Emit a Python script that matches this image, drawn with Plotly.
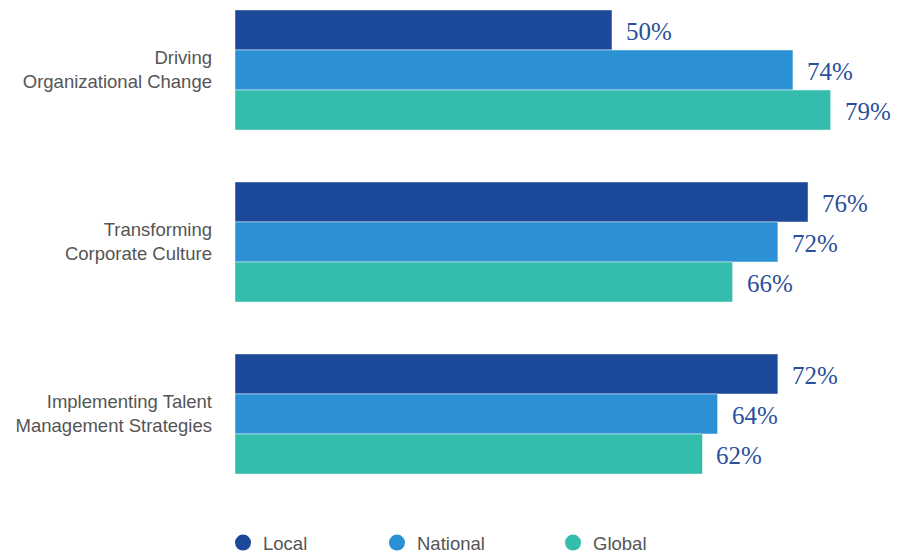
import plotly.graph_objects as go

categories = ["Driving<br>Organizational Change",
              "Transforming<br>Corporate Culture",
              "Implementing Talent<br>Management Strategies"]
series_names = ["Local", "National", "Global"]
local_vals = [50, 76, 72]
national_vals = [74, 72, 64]
global_vals = [79, 66, 62]
colors = ["#1c4899", "#2c91d4", "#34bcad"]

values = [local_vals, national_vals, global_vals]
label_yshift = [40, 0, -40]
legend_x = [-0.0181, 0.2145, 0.4804]

fig = go.Figure()
for name, vals, col in zip(series_names, values, colors):
    fig.add_trace(go.Bar(
        y=categories, x=vals, name=name, orientation="h",
        marker=dict(color=col, line=dict(color="rgba(255,255,255,0.45)", width=1)),
        showlegend=False, hoverinfo="x+name",
    ))

annotations = []
for vals, ys in zip(values, label_yshift):
    for cat, v in zip(categories, vals):
        annotations.append(dict(
            x=v, y=cat, xref="x", yref="y", text=f"{v}%", showarrow=False,
            xanchor="left", yanchor="middle", xshift=12, yshift=ys - 1,
            font=dict(family="Liberation Serif", size=25, color="#2a4f9c"),
        ))

legend_keys = ["legend", "legend2", "legend3"]
for name, col, key in zip(series_names, colors, legend_keys):
    fig.add_trace(go.Scatter(
        x=[None], y=[None], mode="markers", name=name, legend=key,
        marker=dict(color=col, size=20, symbol="circle"),
    ))

legend_common = dict(orientation="h", xanchor="left", yref="container",
                     y=0.018, yanchor="middle", bgcolor="rgba(0,0,0,0)",
                     font=dict(family="Liberation Sans", size=18.5, color="#555555"))

fig.update_layout(
    width=897, height=553,
    margin=dict(l=235, r=0, t=0, b=53),
    paper_bgcolor="white", plot_bgcolor="white",
    barmode="group", bargap=0.302, bargroupgap=0,
    xaxis=dict(range=[0, 87.8], visible=False, fixedrange=True),
    yaxis=dict(range=[2.500, -0.407], type="category", showgrid=False,
               zeroline=False, showline=False, ticks="", ticklen=0,
               tickfont=dict(family="Liberation Sans", size=18.5, color="#555555"),
               ticklabelstandoff=22),
    annotations=annotations,
    legend=dict(x=legend_x[0], **legend_common),
    legend2=dict(x=legend_x[1], **legend_common),
    legend3=dict(x=legend_x[2], **legend_common),
)

fig.write_html("out.html")
